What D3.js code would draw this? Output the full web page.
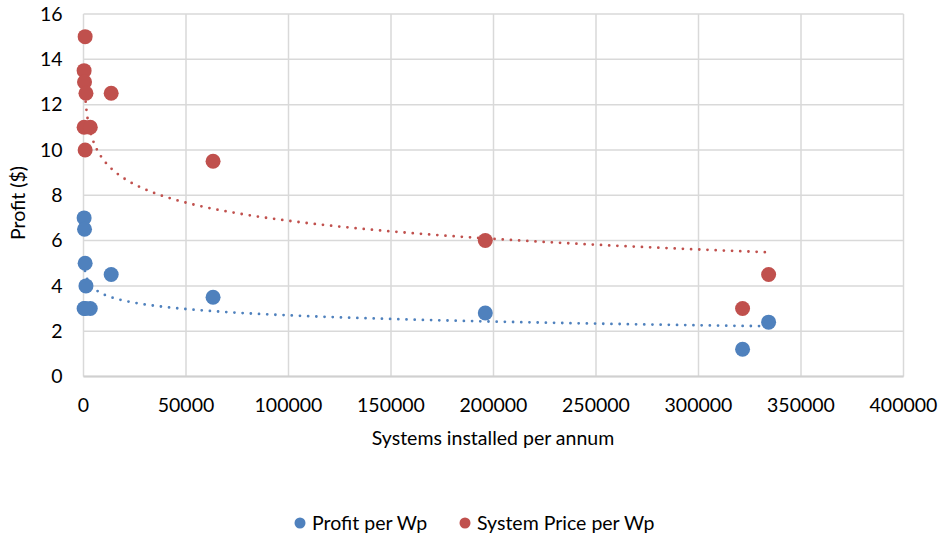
<!DOCTYPE html>
<html>
<head>
<meta charset="utf-8">
<script src="https://cdn.jsdelivr.net/npm/d3@7"></script>
<style>
  body { margin: 0; background: #fff; }
  text { font-family: Lato, "Open Sans", sans-serif; fill: #000; }
</style>
</head>
<body>
<svg width="938" height="538"></svg>
<script>
// systems installed per annum, shared by both series
var installs = [300, 500, 800, 1200, 300, 3300, 800, 13500, 63200, 196000, 321500, 334200];
var profitPerWp = [7, 6.5, 5, 4, 3, 3, 3, 4.5, 3.5, 2.8, 1.2, 2.4];
var pricePerWp = [13.5, 13, 15, 12.5, 11, 11, 10, 12.5, 9.5, 6, 3, 4.5];
var xTicks = [0, 50000, 100000, 150000, 200000, 250000, 300000, 350000, 400000];
var yTicks = [0, 2, 4, 6, 8, 10, 12, 14, 16];
var seriesNames = ["Profit per Wp", "System Price per Wp"];

var svg = d3.select("svg"),
    margin = {top: 14, right: 34.5, bottom: 161.5, left: 83.5},
    width = +svg.attr("width") - margin.left - margin.right,
    height = +svg.attr("height") - margin.top - margin.bottom,
    g = svg.append("g").attr("transform", "translate(" + margin.left + "," + margin.top + ")");

var x = d3.scaleLinear().domain([0, 400000]).range([0, width]);
var y = d3.scaleLinear().domain([0, 16]).range([height, 0]);
var z = d3.scaleOrdinal().domain(seriesNames).range(["#4F81BD", "#C0504D"]);

// gridlines
g.append("g").selectAll("line").data(yTicks).enter().append("line")
  .attr("x1", 0).attr("x2", width)
  .attr("y1", function(d) { return y(d); }).attr("y2", function(d) { return y(d); })
  .attr("stroke", "#D9D9D9").attr("stroke-width", 1.5);
g.append("g").selectAll("line").data(xTicks).enter().append("line")
  .attr("y1", 0).attr("y2", height)
  .attr("x1", function(d) { return x(d); }).attr("x2", function(d) { return x(d); })
  .attr("stroke", "#D9D9D9").attr("stroke-width", 1.5);
// bottom axis line
g.append("line").attr("x1", 0).attr("x2", width).attr("y1", height).attr("y2", height)
  .attr("stroke", "#D0D0D0").attr("stroke-width", 2);

// tick labels
g.append("g").selectAll("text").data(xTicks).enter().append("text")
  .attr("x", function(d) { return x(d); })
  .attr("y", height + 35)
  .attr("text-anchor", "middle")
  .attr("font-size", "19.5px")
  .text(function(d) { return d; });
g.append("g").selectAll("text").data(yTicks).enter().append("text")
  .attr("x", -21)
  .attr("y", function(d) { return y(d); })
  .attr("dy", "0.35em")
  .attr("text-anchor", "end")
  .attr("font-size", "19.5px")
  .text(function(d) { return d; });

// axis titles
svg.append("text")
  .attr("x", 493).attr("y", 445)
  .attr("text-anchor", "middle")
  .attr("font-size", "19.5px")
  .text("Systems installed per annum");
svg.append("text")
  .attr("transform", "translate(25,203) rotate(-90)")
  .attr("text-anchor", "middle")
  .attr("font-size", "19.5px")
  .text("Profit ($)");

// logarithmic trendline fit
function logFit(xs, ys) {
  var lx = xs.map(Math.log), n = xs.length;
  var mx = d3.mean(lx), my = d3.mean(ys), sxy = 0, sxx = 0;
  for (var i = 0; i < n; ++i) { sxy += (lx[i] - mx) * (ys[i] - my); sxx += (lx[i] - mx) * (lx[i] - mx); }
  var a = sxy / sxx;
  return {a: a, b: my - a * mx};
}

var series = [
  {name: seriesNames[0], values: profitPerWp},
  {name: seriesNames[1], values: pricePerWp}
];

var line = d3.line()
  .x(function(d) { return x(d[0]); })
  .y(function(d) { return y(d[1]); });

series.forEach(function(s) {
  var fit = logFit(installs, s.values);
  var lo = d3.min(installs), hi = d3.max(installs);
  var pts = d3.range(0, 301).map(function(i) {
    var xv = lo + (hi - lo) * Math.pow(i / 300, 2);
    return [xv, fit.a * Math.log(xv) + fit.b];
  });
  g.append("path").datum(pts)
    .attr("d", line)
    .attr("fill", "none")
    .attr("stroke", z(s.name))
    .attr("stroke-width", 2.8)
    .attr("stroke-linecap", "round")
    .attr("stroke-dasharray", "0,8.2");
});

// markers
series.forEach(function(s) {
  g.append("g").selectAll("circle")
    .data(s.values.map(function(v, i) { return [installs[i], v]; }))
    .enter().append("circle")
      .attr("cx", function(d) { return x(d[0]); })
      .attr("cy", function(d) { return y(d[1]); })
      .attr("r", 7.5)
      .attr("fill", z(s.name));
});

// legend
var legend = svg.append("g").selectAll("g")
  .data(seriesNames)
  .enter().append("g")
    .attr("transform", function(d, i) { return "translate(" + [300, 465][i] + ",523)"; });
legend.append("circle").attr("r", 5.5).attr("fill", z);
legend.append("text")
  .attr("x", 12).attr("dy", "0.35em")
  .attr("font-size", "19.5px")
  .text(function(d) { return d; });
</script>
</body>
</html>
